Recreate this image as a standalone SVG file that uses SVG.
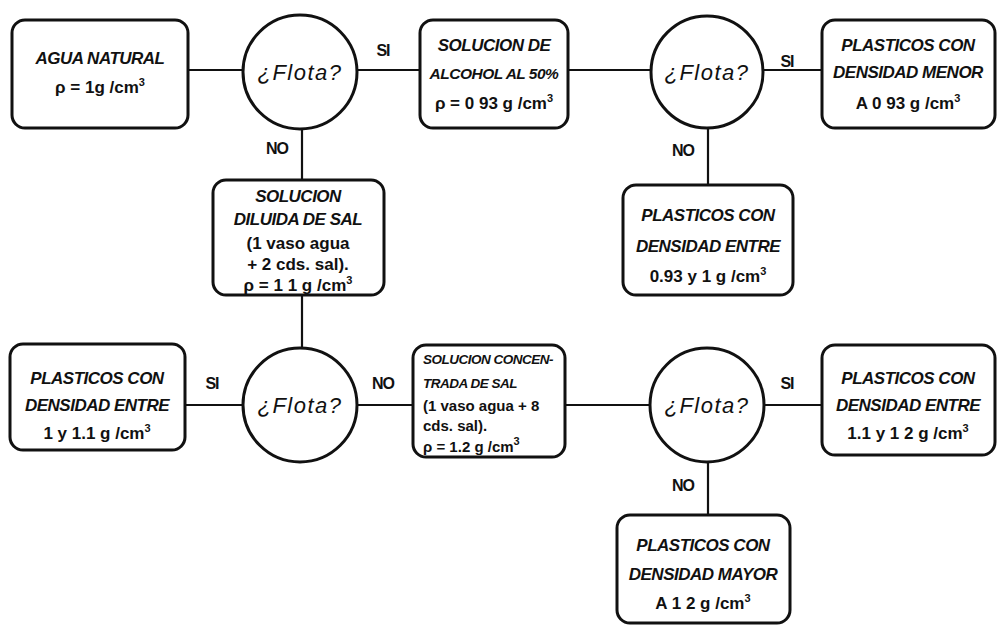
<svg xmlns="http://www.w3.org/2000/svg" width="999" height="625" viewBox="0 0 999 625">
<style>
  .box { fill: #ffffff; stroke: #111; stroke-width: 3; }
  .circ { fill: #ffffff; stroke: #111; stroke-width: 3; }
  .conn line { stroke: #111; stroke-width: 2.2; }
  text { font-family: "Liberation Sans", Arial, sans-serif; fill: #111; }
  .it { font-style: italic; font-weight: bold; font-size: 17px; letter-spacing: -0.5px; text-anchor: middle; }
  .nm { font-weight: bold; font-size: 17px; text-anchor: middle; }
  .lbl { font-weight: bold; font-size: 16px; text-anchor: middle; letter-spacing: -1px; }
  .fl { font-style: italic; font-size: 22px; text-anchor: middle; letter-spacing: 1.5px; }
  .sup { font-size: 11px; }
  .lt { text-anchor: start; }
  .sm { font-size: 13.5px; }
  .smn { font-size: 15px; }
</style>
<rect width="999" height="625" fill="#ffffff"/>

<g id="connectors" class="conn">
  <line x1="188" y1="70" x2="243" y2="70"/>
  <line x1="357" y1="70" x2="420" y2="70"/>
  <line x1="568" y1="70" x2="650" y2="70"/>
  <line x1="764" y1="70" x2="822" y2="70"/>
  <line x1="302" y1="129" x2="302" y2="180"/>
  <line x1="708" y1="128" x2="708" y2="185"/>
  <line x1="302" y1="295" x2="302" y2="348"/>
  <line x1="185" y1="405" x2="243" y2="405"/>
  <line x1="357" y1="405" x2="413" y2="405"/>
  <line x1="565" y1="405" x2="650" y2="405"/>
  <line x1="764" y1="405" x2="822" y2="405"/>
  <line x1="708" y1="462" x2="708" y2="515"/>
  <text class="lbl" x="383" y="56">SI</text>
  <text class="lbl" x="787" y="67">SI</text>
  <text class="lbl" x="277" y="154">NO</text>
  <text class="lbl" x="683" y="156">NO</text>
  <text class="lbl" x="212" y="389">SI</text>
  <text class="lbl" x="383" y="389">NO</text>
  <text class="lbl" x="787" y="389">SI</text>
  <text class="lbl" x="683" y="491">NO</text>
</g>

<g id="agua">
  <rect class="box" x="12" y="20" width="176" height="108" rx="13"/>
  <text class="it" x="100" y="64">AGUA NATURAL</text>
  <text class="nm" x="100" y="93">ρ = 1g  /cm<tspan class="sup" dy="-7">3</tspan></text>
</g>

<g id="flota1">
  <circle class="circ" cx="300" cy="72" r="57"/>
  <text class="fl" x="300" y="80">¿Flota?</text>
</g>

<g id="alcohol">
  <rect class="box" x="420" y="20" width="148" height="108" rx="13"/>
  <text class="it" x="494" y="51">SOLUCION DE</text>
  <text class="it" x="494" y="79" style="font-size:15.5px">ALCOHOL AL 50%</text>
  <text class="nm" x="494" y="109">ρ = 0 93 g  /cm<tspan class="sup" dy="-7">3</tspan></text>
</g>

<g id="flota2">
  <circle class="circ" cx="707" cy="72" r="56"/>
  <text class="fl" x="707" y="80">¿Flota?</text>
</g>

<g id="menor">
  <rect class="box" x="822" y="20" width="173" height="108" rx="13"/>
  <text class="it" x="908" y="51">PLASTICOS CON</text>
  <text class="it" x="908" y="78">DENSIDAD MENOR</text>
  <text class="nm" x="908" y="109">A 0 93 g  /cm<tspan class="sup" dy="-7">3</tspan></text>
</g>

<g id="diluida">
  <rect class="box" x="213" y="180" width="171" height="115" rx="13"/>
  <text class="it" x="298" y="202">SOLUCION</text>
  <text class="it" x="298" y="225">DILUIDA DE SAL</text>
  <text class="nm" x="298" y="249">(1 vaso agua</text>
  <text class="nm" x="298" y="270">+ 2 cds. sal).</text>
  <text class="nm" x="298" y="291">ρ = 1 1 g  /cm<tspan class="sup" dy="-7">3</tspan></text>
</g>

<g id="entre093">
  <rect class="box" x="623" y="185" width="170" height="110" rx="13"/>
  <text class="it" x="708" y="221">PLASTICOS CON</text>
  <text class="it" x="708" y="252">DENSIDAD  ENTRE</text>
  <text class="nm" x="708" y="282">0.93 y 1 g  /cm<tspan class="sup" dy="-7">3</tspan></text>
</g>

<g id="entre1">
  <rect class="box" x="10" y="344" width="175" height="106" rx="13"/>
  <text class="it" x="97" y="384">PLASTICOS CON</text>
  <text class="it" x="97" y="411">DENSIDAD  ENTRE</text>
  <text class="nm" x="97" y="439">1 y 1.1 g  /cm<tspan class="sup" dy="-7">3</tspan></text>
</g>

<g id="flota3">
  <circle class="circ" cx="300" cy="405" r="57"/>
  <text class="fl" x="300" y="413">¿Flota?</text>
</g>

<g id="concentrada">
  <rect class="box" x="413" y="345" width="152" height="112" rx="13"/>
  <text class="it lt sm" x="423" y="364">SOLUCION CONCEN-</text>
  <text class="it lt sm" x="423" y="388">TRADA DE SAL</text>
  <text class="nm lt smn" x="423" y="411">(1 vaso agua + 8</text>
  <text class="nm lt smn" x="423" y="431">cds. sal).</text>
  <text class="nm lt smn" x="423" y="452">ρ = 1.2 g  /cm<tspan class="sup" dy="-7">3</tspan></text>
</g>

<g id="flota4">
  <circle class="circ" cx="707" cy="405" r="57"/>
  <text class="fl" x="707" y="413">¿Flota?</text>
</g>

<g id="entre11">
  <rect class="box" x="822" y="345" width="173" height="110" rx="13"/>
  <text class="it" x="908" y="384">PLASTICOS CON</text>
  <text class="it" x="908" y="411">DENSIDAD  ENTRE</text>
  <text class="nm" x="908" y="439">1.1 y 1 2 g  /cm<tspan class="sup" dy="-7">3</tspan></text>
</g>

<g id="mayor">
  <rect class="box" x="617" y="515" width="173" height="108" rx="13"/>
  <text class="it" x="703" y="551">PLASTICOS CON</text>
  <text class="it" x="703" y="580">DENSIDAD  MAYOR</text>
  <text class="nm" x="703" y="609">A 1 2 g  /cm<tspan class="sup" dy="-7">3</tspan></text>
</g>
</svg>
